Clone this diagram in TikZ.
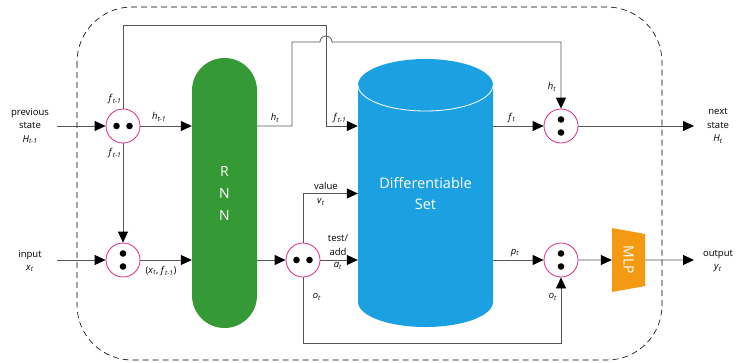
\documentclass[tikz,border=0pt]{standalone}
\usepackage{fontspec}
\setmainfont{Open Sans}
\usetikzlibrary{shapes.geometric,arrows.meta}
\definecolor{rnngreen}{HTML}{359A35}
\definecolor{setblue}{HTML}{1BA1E2}
\definecolor{mlporange}{HTML}{F39A12}
\definecolor{mixpink}{HTML}{E0288A}
\definecolor{wiregray}{HTML}{555555}
\newcommand{\vsub}[2]{\textit{#1}\textsubscript{\textit{#2}}}

\begin{document}
\begin{tikzpicture}[x=1pt,y=-1pt,
  every node/.style={font=\fontsize{9.5}{13.5}\selectfont,inner sep=1pt},
  wire/.style={draw=wiregray,line width=0.8pt},
  arr/.style={wire,-{Triangle[length=11pt,width=10pt,color=black]}},
  mix/.style={circle,draw=mixpink,line width=0.8pt,minimum size=34pt,inner sep=0pt,fill=white}]
\useasboundingbox (0,0) rectangle (738,362);

% outer cell
\draw[dash pattern=on 6pt off 4pt, line width=0.6pt, rounded corners=55pt] (77,7) rectangle (662,360);

% blocks
\node[fill=rnngreen, rounded corners=32.5pt, minimum width=65pt, minimum height=270pt, text=white, align=center, font=\fontsize{14}{22}\selectfont] (rnn) at (224.5,193) {R\\N\\N};
\fill[setblue] (358,85) -- (358,302) arc[start angle=180,end angle=360,x radius=67.5pt,y radius=25pt] -- (493,85) arc[start angle=0,end angle=180,x radius=67.5pt,y radius=26pt] -- cycle;
\draw[white, line width=0.8pt] (358,85) arc[start angle=180,end angle=360,x radius=67.5pt,y radius=26pt];
\node[minimum width=135pt, minimum height=217pt, inner sep=0pt, text=white, align=center, font=\fontsize{14.5}{21}\selectfont] (set) at (425.5,193.5) {Differentiable\\Set};
\node[trapezium, rotate=-90, trapezium stretches=true, minimum width=64pt, minimum height=33pt, trapezium left angle=72, trapezium right angle=72, fill=mlporange, text=white, inner sep=0pt, font=\fontsize{14}{16}\selectfont] (mlp) at (628.5,260) {MLP};

% mixing points
\node[mix] (mixH) at (123,126) {};
\node[mix] (mixX) at (123,260) {};
\node[mix] (mixS) at (303,260) {};
\node[mix] (mixF) at (561,126) {};
\node[mix] (mixY) at (561,260) {};
\foreach \n in {mixH,mixS}
  \fill ([xshift=-6.5pt]\n.center) circle (3.3pt) ([xshift=6.5pt]\n.center) circle (3.3pt);
\foreach \n in {mixX,mixF,mixY}
  \fill ([yshift=-6.5pt]\n.center) circle (3.3pt) ([yshift=6.5pt]\n.center) circle (3.3pt);

% in / out
\node[align=center] (prev) at (30,126) {previous\\state\\\vsub{H}{t-1}};
\node[align=center] (inp) at (30,261) {input\\\vsub{x}{t}};
\node[align=center] (next) at (718,126) {next\\state\\\vsub{H}{t}};
\node[align=center] (outp) at (718,261) {output\\\vsub{y}{t}};
\coordinate (previn) at (57,126);
\coordinate (inpin) at (57,260);
\coordinate (nextout) at (694,126);
\coordinate (outpout) at (694,260);
\coordinate (topL) at (123,25);
\coordinate (topR) at (326,25);
\coordinate (hupL) at (292,42);
\coordinate (jumpL) at (320,42);
\coordinate (loopL) at (303,343);

% connectors
\draw[arr] (previn) -- (mixH);
\draw[arr] (inpin) -- (mixX);
\draw[arr] (mixH) -- (mixX);
\draw[arr] (mixH) -- (rnn.west |- mixH);
\draw[arr] (mixX) -- (rnn.west |- mixX);
\draw[arr] (mixH) -- (topL) -- (topR) -- (topR |- mixH) -- (set.west |- mixH);
\draw[arr] (rnn.east |- mixH) -- (hupL |- mixH) -- (hupL) -- (jumpL) arc[start angle=180,end angle=0,radius=6pt] -- (mixF |- hupL) -- (mixF);
\draw[arr] (rnn.east |- mixS) -- (mixS);
\draw[arr] (mixS) -- (set.west |- mixS);
\draw[arr] (mixS) |- (set.west);
\draw[arr] (mixS) -- (loopL) -| (mixY);
\draw[arr] (set.east |- mixF) -- (mixF);
\draw[arr] (set.east |- mixY) -- (mixY);
\draw[arr] (mixF) -- (nextout);
\draw[arr] (mixY) -- (mlp.south);
\draw[arr] (mlp.north) -- (outpout);

% labels
\node (lfa) at (115,99) {\vsub{f}{t-1}};
\node (lfb) at (115,153) {\vsub{f}{t-1}};
\node (lha) at (159,117) {\vsub{h}{t-1}};
\node (lxf) at (161,271) {(\vsub{x}{t}, \vsub{f}{t-1})};
\node (lhb) at (275,118) {\vsub{h}{t}};
\node (lfc) at (340,118) {\vsub{f}{t-1}};
\node (lval) at (326,186) {value};
\node (lv) at (321,202) {\vsub{v}{t}};
\node[align=center] (ltest) at (338,245) {test/\\add};
\node (la) at (338,266) {\vsub{a}{t}};
\node (loa) at (317,297) {\vsub{o}{t}};
\node (lob) at (553,297) {\vsub{o}{t}};
\node (lft) at (512,118) {\vsub{f}{t}};
\node (lhc) at (552,87) {\vsub{h}{t}};
\node (lp) at (515,253) {\vsub{p}{t}};
\end{tikzpicture}
\end{document}
